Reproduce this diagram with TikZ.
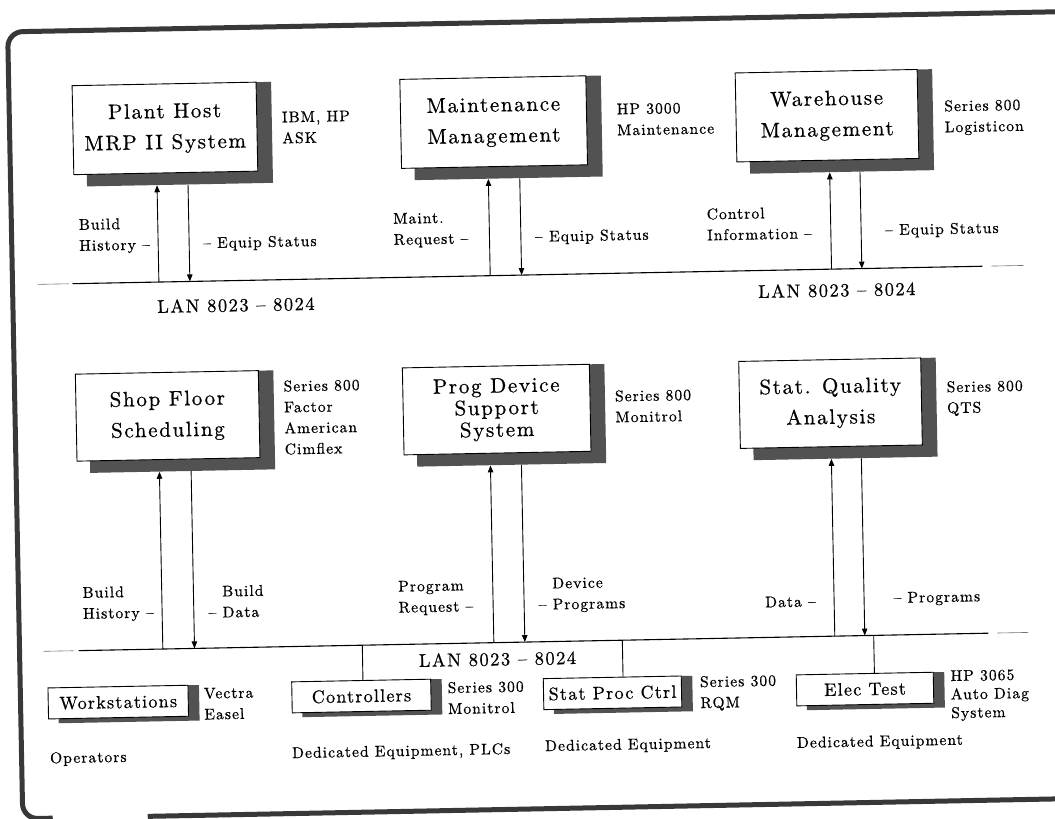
\documentclass[tikz,border=0pt]{standalone}
\usepackage{fontspec}
\usetikzlibrary{arrows.meta}

% type faces: spaced-out serif, as on a pen plotter
\newfontfamily\titlefam{lmroman10-regular.otf}[Ligatures=TeX, LetterSpace=8, FakeBold=0.6]
\newfontfamily\unitfam{lmroman10-regular.otf}[Ligatures=TeX, LetterSpace=7, FakeBold=0.6]
\newfontfamily\labfam{lmroman10-regular.otf}[Ligatures=TeX, LetterSpace=7, FakeBold=0.6]
\newcommand\titlefont{\titlefam\fontsize{21}{31}\selectfont}
\newcommand\unitfont{\unitfam\fontsize{18}{20}\selectfont}
\newcommand\labfont{\labfam\fontsize{15.5}{21}\selectfont}
\newcommand\lanfont{\titlefam\fontsize{18.5}{22}\selectfont}

\definecolor{shadegray}{gray}{0.32}
\definecolor{framegray}{gray}{0.22}

\tikzset{
  bigbox/.style={draw, line width=0.9pt, fill=white, inner sep=0pt, align=center, font=\titlefont},
  bigshade/.style={fill=shadegray, inner sep=0pt},
  smallbox/.style={draw, line width=0.9pt, fill=white, inner sep=0pt, align=center, font=\unitfont},
  smallshade/.style={fill=shadegray, inner sep=0pt},
  lab/.style={font=\labfont, align=left, inner sep=0pt, anchor=west},
  lanlab/.style={font=\lanfont, inner sep=0pt},
  arr/.style={line width=0.9pt, -{Triangle[length=7pt,width=5.5pt]}},
  lan/.style={line width=1.1pt},
  lanend/.style={line width=0.6pt, black!55},
  drop/.style={line width=0.9pt},
  frame/.style={line width=5pt, framegray, rounded corners=15pt},
}

% large box with its drop shadow: name, x, y, width, height, text
\newcommand\bigunit[6]{%
  \node[bigshade, minimum width=#4+2, minimum height=#5+12, xshift=14pt, yshift=-6pt] (#1s) at (#2,#3) {};
  \node[bigbox, minimum width=#4, minimum height=#5] (#1) at (#2,#3) {#6};}
% small box with its drop shadow: name, x, y, width, text
\newcommand\smallunit[5]{%
  \node[smallshade, minimum width=#4+1, minimum height=35.5, xshift=10.5pt, yshift=-2.25pt] (#1s) at (#2,#3) {};
  \node[smallbox, minimum width=#4, minimum height=31] (#1) at (#2,#3) {#5};}

\begin{document}
\begin{tikzpicture}[x=1pt, y=-1pt]
\useasboundingbox (0,0) rectangle (1055,819);
\fill[white] (0,0) rectangle (1055,819);

\begin{scope}[transform canvas={rotate around={1.1:(527,410)}}]

% outer frame
\draw[frame] (1090,22) -- (15,22) -- (15,809) -- (45,809);
\draw[frame, rounded corners=0pt] (140,809) -- (1090,809);

% ---------------- upper row ----------------
\bigunit{plant}{170.4}{121.5}{184}{89}{Plant Host\\MRP II System}
\bigunit{maint}{499.2}{121.5}{186}{89}{Maintenance\\Management}
\bigunit{ware}{832.6}{121.5}{182}{89}{Warehouse\\Management}

\node[lab] (plantsys) at (287.4,123.1) {IBM, HP\\ASK};
\node[lab] (maintsys) at (622.3,121.4) {HP 3000\\Maintenance};
\node[lab] (waresys)  at (949.9,126)   {Series 800\\Logisticon};

% upper LAN
\coordinate (lanAw) at (75,275);
\coordinate (lanAe) at (985,275);
\coordinate (lanAww) at (40,275);
\coordinate (lanAwe) at (71,275);
\coordinate (lanAew) at (994,275);
\coordinate (lanAee) at (1026,275);
\draw[lan] (lanAw) -- (lanAe);
\draw[lanend] (lanAww) -- (lanAwe);
\draw[lanend] (lanAew) -- (lanAee);

\coordinate (plantup) at (161.4,275);
\coordinate (plantdn) at (192.4,275);
\coordinate (maintup) at (492.8,275);
\coordinate (maintdn) at (524.2,275);
\coordinate (wareup)  at (834.2,275);
\coordinate (waredn)  at (864.5,275);
\draw[arr] (plantup) -- (plantup |- plants.south);
\draw[arr] (plantdn |- plants.south) -- (plantdn);
\draw[arr] (maintup) -- (maintup |- maints.south);
\draw[arr] (maintdn |- maints.south) -- (maintdn);
\draw[arr] (wareup) -- (wareup |- wares.south);
\draw[arr] (waredn |- wares.south) -- (waredn);

\node[lab] (plantin)  at (82.3,228)  {Build\\History –};
\node[lab] (plantout) at (206.2,238) {– Equip Status};
\node[lab] (maintin)  at (396.8,228) {Maint.\\Request –};
\node[lab] (maintout) at (538.3,238) {– Equip Status};
\node[lab] (warein)   at (710.3,228) {Control\\Information –};
\node[lab] (wareout)  at (888.4,238) {– Equip Status};

\node[lanlab] (lanAlab1) at (238,299.4) {LAN 8023 – 8024};
\node[lanlab] (lanAlab2) at (839,296)   {LAN 8023 – 8024};

% ---------------- lower row ----------------
\bigunit{shop}{167.6}{409}{183}{87}{Shop Floor\\Scheduling}
\bigunit{prog}{496.7}{409}{187}{87}{Prog Device\\[-9pt]Support\\[-9pt]System}
\bigunit{sqa}{830.6}{409}{182}{87}{Stat. Quality\\Analysis}

\node[lab] (shopsys) at (283.9,413)   {Series 800\\Factor\\American\\Cimflex};
\node[lab] (progsys) at (615.1,408.2) {Series 800\\Monitrol};
\node[lab] (sqasys)  at (946.9,406.8) {Series 800\\QTS};

% lower LAN
\coordinate (lanBw) at (74,642);
\coordinate (lanBe) at (984,642);
\coordinate (lanBww) at (39,642);
\coordinate (lanBwe) at (69,642);
\coordinate (lanBew) at (993,642);
\coordinate (lanBee) at (1024,642);
\draw[lan] (lanBw) -- (lanBe);
\draw[lanend] (lanBww) -- (lanBwe);
\draw[lanend] (lanBew) -- (lanBee);

\coordinate (shopup) at (158.3,642);
\coordinate (shopdn) at (190,642);
\coordinate (progup) at (489.4,642);
\coordinate (progdn) at (520.4,642);
\coordinate (sqaup)  at (830.4,642);
\coordinate (sqadn)  at (860.4,642);
\draw[arr] (shopup) -- (shopup |- shops.south);
\draw[arr] (shopdn |- shops.south) -- (shopdn);
\draw[arr] (progup) -- (progup |- progs.south);
\draw[arr] (progdn |- progs.south) -- (progdn);
\draw[arr] (sqaup) -- (sqaup |- sqas.south);
\draw[arr] (sqadn |- sqas.south) -- (sqadn);

\node[lab] (shopin)  at (79,596)      {Build\\History –};
\node[lab] (shopout) at (204.6,595.8) {\phantom{– }Build\\– Data};
\node[lab] (progin)  at (394.7,595.8) {Program\\Request –};
\node[lab] (progout) at (534.8,595.7) {\phantom{– }Device\\– Programs};
\node[lab] (sqain)   at (761.3,606.7) {Data –};
\node[lab] (sqaout)  at (889.7,606.2) {– Programs};

\node[lanlab] (lanBlab) at (492.7,658.4) {LAN 8023 – 8024};

% ---------------- stations on the lower LAN ----------------
\smallunit{work}{112.7}{694.2}{140}{Workstations}
\smallunit{ctrl}{356.0}{692.8}{139}{Controllers}
\smallunit{spc}{607.1}{694.4}{138}{Stat Proc Ctrl}
\smallunit{elec}{859.6}{695.5}{137}{Elec Test}

\coordinate (ctrldrop) at (357.8,642);
\coordinate (spcdrop)  at (617.9,642);
\coordinate (elecdrop) at (869.3,642);
\draw[drop] (ctrldrop) -- (ctrldrop |- ctrl.north);
\draw[drop] (spcdrop) -- (spcdrop |- spc.north);
\draw[drop] (elecdrop) -- (elecdrop |- elec.north);

\node[lab] (worksys) at (198.4,697.6) {Vectra\\Easel};
\node[lab] (ctrlsys) at (442.2,696.6) {Series 300\\Monitrol};
\node[lab] (spcsys)  at (694.6,696.9) {Series 300\\RQM};
\node[lab, font=\labfam\fontsize{15.5}{18.5}\selectfont] (elecsys) at (945.2,703.9) {HP 3065\\Auto Diag\\System};

\node[lab] (workuse) at (43.3,750.1)  {Operators};
\node[lab] (ctrluse) at (285.4,749.6) {Dedicated Equipment, PLCs};
\node[lab] (spcuse)  at (538.5,747.5) {Dedicated Equipment};
\node[lab] (elecuse) at (790.4,749.1) {Dedicated Equipment};

\end{scope}
\end{tikzpicture}
\end{document}
